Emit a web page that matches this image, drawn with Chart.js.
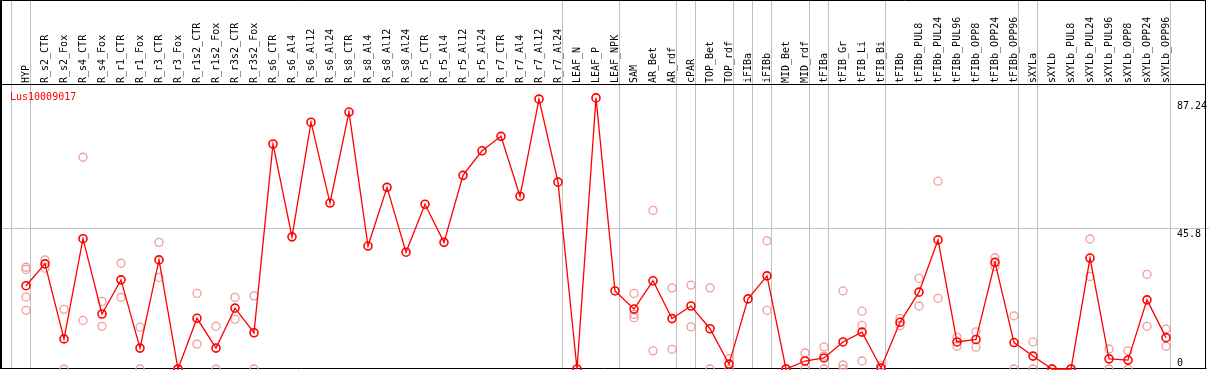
<!DOCTYPE html>
<html>
<head>
<meta charset="utf-8">
<script src="https://cdn.jsdelivr.net/npm/chart.js@4.4.1/dist/chart.umd.min.js"></script>
<style>
  html, body { margin: 0; padding: 0; background: #ffffff; }
  #wrap { width: 1209px; height: 370px; }
</style>
</head>
<body>
<div id="wrap"><canvas id="c" width="1209" height="370"></canvas></div>
<script>
const chartTitle = 'Lus10009017';

const categories = [
  'HYP',
  'R_s2_CTR','R_s2_Fox','R_s4_CTR','R_s4_Fox','R_r1_CTR','R_r1_Fox','R_r3_CTR','R_r3_Fox',
  'R_r1s2_CTR','R_r1s2_Fox','R_r3s2_CTR','R_r3s2_Fox',
  'R_s6_CTR','R_s6_Al4','R_s6_Al12','R_s6_Al24','R_s8_CTR','R_s8_Al4','R_s8_Al12','R_s8_Al24',
  'R_r5_CTR','R_r5_Al4','R_r5_Al12','R_r5_Al24','R_r7_CTR','R_r7_Al4','R_r7_Al12','R_r7_Al24',
  'LEAF_N','LEAF_P','LEAF_NPK',
  'SAM','AR_Bet','AR_rdf','cPAR','TOP_Bet','TOP_rdf','iFIBa','iFIBb','MID_Bet','MID_rdf',
  'tFIBa','tFIB_Gr','tFIB_Li','tFIB_Bi',
  'tFIBb','tFIBb_PUL8','tFIBb_PUL24','tFIBb_PUL96','tFIBb_OPP8','tFIBb_OPP24','tFIBb_OPP96',
  'sXYLa','sXYLb','sXYLb_PUL8','sXYLb_PUL24','sXYLb_PUL96','sXYLb_OPP8','sXYLb_OPP24','sXYLb_OPP96'
];

// number of categories in each sample group (separated by grey lines)
const groupSizes = [1, 28, 3, 3, 1, 2, 1, 1, 2, 1, 3, 7, 1, 7];

const meanValues = [
  27.1,
  34.2, 9.8, 42.4, 17.9, 29.0, 6.8, 35.5, 0,
  16.5, 6.8, 19.8, 11.8,
  73.2, 43.0, 80.3, 54.0, 83.6, 40.0, 59.1, 38.0,
  53.6, 41.2, 63.0, 71.0, 75.7, 56.2, 87.8, 60.8,
  0, 88.2, 25.4,
  19.5, 28.7, 16.4, 20.5, 13.1, 1.6, 22.8, 30.3, 0, 2.6,
  3.6, 8.8, 12.0, 0.4,
  15.2, 25.0, 42.0, 8.8, 9.6, 34.7, 8.6,
  4.2, 0, 0, 36.1, 3.3, 2.9, 22.5, 10.2
];

const replicateValues = [
  [33.1, 32.4, 23.4, 19.1],
  [35.5, 32.8], [19.4, 0], [68.9, 15.8], [22.0, 13.9], [34.4, 23.3], [13.6, 0], [41.2, 29.8], [0, 0],
  [24.6, 8.1], [13.9, 0], [23.3, 16.2], [23.8, 0],
  [], [], [], [], [], [], [], [],
  [], [], [], [], [], [], [], [],
  [], [], [],
  [24.6, 17.8, 16.7], [51.6, 5.9], [26.4, 6.4], [27.3, 13.7], [26.4, 0], [3.4, 0], [], [41.7, 19.1], [0, 0], [5.2, 0],
  [7.2, 4.2, 0], [25.4, 1.3, 0], [18.8, 14.2, 2.6], [1.2, 0],
  [16.5, 14.1], [29.5, 20.5], [61.1, 23.0], [10.4, 7.4], [12.1, 7.1], [36.2, 33.3], [17.3, 0],
  [8.8, 0], [0, 0], [0, 0], [42.3, 30.1], [6.5, 0], [5.9, 0], [30.8, 13.9], [13.0, 7.4]
];

const yTickValues = [0, 45.8, 87.24];
const yTickLabels = ['0', '45.8', '87.24'];
const yGridValues = [45.8];
const yMax = 92.4;

// ---- build datasets from the arrays ----
const replicatePoints = [];
replicateValues.forEach((reps, i) => {
  reps.forEach(v => replicatePoints.push({ x: categories[i], y: v }));
});

const separatorIndices = [-1];
groupSizes.reduce((acc, n) => { const end = acc + n; separatorIndices.push(end - 1); return end; }, 0);

const FONT = { family: 'DejaVu Sans Mono', size: 10 };

const framePlugin = {
  id: 'frame',
  beforeDraw(chart) {
    const { ctx, width, height } = chart;
    ctx.save();
    ctx.fillStyle = '#ffffff';
    ctx.fillRect(0, 0, width, height);
    ctx.restore();
  },
  beforeDatasetsDraw(chart) {
    const { ctx, width, chartArea, scales } = chart;
    const xs = scales.x, ys = scales.y;
    ctx.save();
    ctx.strokeStyle = '#c0c0c0';
    ctx.lineWidth = 1;
    separatorIndices.forEach(i => {
      const px = Math.round(xs.getPixelForValue(i) + 4) + 0.5;
      ctx.beginPath();
      ctx.moveTo(px, 0);
      ctx.lineTo(px, chartArea.bottom);
      ctx.stroke();
    });
    yGridValues.forEach(v => {
      const py = Math.round(ys.getPixelForValue(v)) + 0.5;
      ctx.beginPath();
      ctx.moveTo(0, py);
      ctx.lineTo(width, py);
      ctx.stroke();
    });
    // black frame
    ctx.strokeStyle = '#000000';
    const right = 1205.5;
    ctx.beginPath();
    ctx.moveTo(0.5, 0.5); ctx.lineTo(right, 0.5);
    ctx.moveTo(0, Math.round(chartArea.top) - 0.5); ctx.lineTo(right, Math.round(chartArea.top) - 0.5);
    ctx.moveTo(0, Math.round(chartArea.bottom) - 0.5); ctx.lineTo(right + 1, Math.round(chartArea.bottom) - 0.5);
    ctx.stroke();
    ctx.lineWidth = 2;
    ctx.beginPath();
    ctx.moveTo(1, 0); ctx.lineTo(1, chartArea.bottom);
    ctx.stroke();
    ctx.lineWidth = 1;
    ctx.beginPath();
    ctx.moveTo(right, 0); ctx.lineTo(right, chartArea.bottom);
    ctx.stroke();
    ctx.restore();
  },
  afterDraw(chart) {
    const { ctx, chartArea } = chart;
    ctx.save();
    ctx.fillStyle = '#ff0000';
    ctx.font = '10px "DejaVu Sans Mono"';
    ctx.textBaseline = 'middle';
    ctx.textAlign = 'left';
    ctx.fillText(chartTitle, 10, chartArea.top + 12.5);
    ctx.restore();
  }
};

new Chart(document.getElementById('c'), {
  type: 'line',
  data: {
    labels: categories,
    datasets: [
      {
        label: 'mean',
        data: meanValues,
        order: 0,
        borderColor: '#ff0000',
        borderWidth: 1.3,
        pointRadius: 4,
        pointBorderWidth: 1.6,
        pointBorderColor: '#ff0000',
        pointBackgroundColor: 'rgba(0,0,0,0)',
        tension: 0,
        clip: false
      },
      {
        label: 'replicates',
        data: replicatePoints,
        order: 1,
        showLine: false,
        pointRadius: 4,
        pointBorderWidth: 1.3,
        pointBorderColor: '#f09c9c',
        pointBackgroundColor: 'rgba(0,0,0,0)',
        clip: false
      }
    ]
  },
  options: {
    responsive: false,
    animation: false,
    devicePixelRatio: 1,
    layout: { autoPadding: false, padding: { left: 26, right: 0, top: 0, bottom: 1 } },
    plugins: {
      legend: { display: false },
      tooltip: { enabled: false },
      title: { display: false }
    },
    scales: {
      x: {
        type: 'category',
        position: 'top',
        offset: false,
        grid: { display: false, drawTicks: false },
        border: { display: false },
        ticks: {
          autoSkip: false,
          minRotation: 90,
          maxRotation: 90,
          padding: 2,
          labelOffset: 12,
          font: FONT,
          color: '#000000'
        },
        afterFit(s) { s.height = 85; s.paddingLeft = 0; s.paddingRight = 0; }
      },
      y: {
        position: 'right',
        min: 0,
        max: yMax,
        grid: { display: false, drawTicks: false },
        border: { display: false },
        afterBuildTicks(s) { s.ticks = yTickValues.map(v => ({ value: v })); },
        ticks: {
          padding: 11,
          font: FONT,
          color: '#000000',
          callback(value) {
            const i = yTickValues.indexOf(value);
            const t = i >= 0 ? yTickLabels[i] : '';
            return value === 0 ? [t, ''] : ['', t];
          }
        },
        afterFit(s) { s.width = 43; s.paddingTop = 0; s.paddingBottom = 0; }
      }
    }
  },
  plugins: [framePlugin]
});
</script>
</body>
</html>
